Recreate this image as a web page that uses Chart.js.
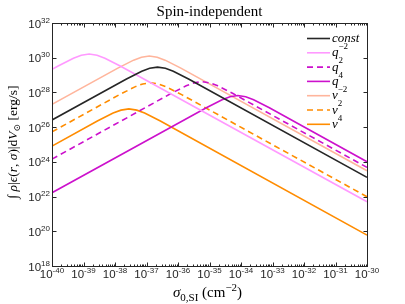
<!DOCTYPE html>
<html>
<head>
<meta charset="utf-8">
<script src="https://cdn.jsdelivr.net/npm/chart.js@4.4.1/dist/chart.umd.min.js"></script>
<style>html,body{margin:0;padding:0;background:#fff}</style>
</head>
<body>
<canvas id="c" width="405" height="304"></canvas>
<script>
// values, stored as log10 exponents
const logSigmaConst = [-40, -37.65, -37.15, -36.9, -36.65, -36.4, -36.15, -35.65, -30];
const logLumConst   = [26.41, 28.76, 29.22, 29.39, 29.46, 29.39, 29.22, 28.76, 23.11];

const logSigmaQm2 = [-40, -39.82, -39.32, -39.07, -38.82, -38.57, -38.32, -37.82, -30];
const logLumQm2   = [29.33, 29.51, 29.97, 30.14, 30.21, 30.14, 29.97, 29.51, 21.70];

const logSigmaQ2 = [-40, -36.24, -35.74, -35.49, -35.24, -34.99, -34.74, -34.24, -30];
const logLumQ2   = [24.16, 27.92, 28.38, 28.55, 28.62, 28.55, 28.38, 27.92, 23.68];

const logSigmaQ4 = [-40, -35.1, -34.6, -34.35, -34.1, -33.85, -33.6, -33.1, -30];
const logLumQ4   = [22.22, 27.12, 27.58, 27.75, 27.82, 27.75, 27.58, 27.12, 24.01];

const logSigmaVm2 = [-40, -37.91, -37.41, -37.16, -36.91, -36.66, -36.41, -35.91, -30];
const logLumVm2   = [27.31, 29.40, 29.86, 30.03, 30.10, 30.03, 29.86, 29.40, 23.49];

const logSigmaV2 = [-40, -37.87, -37.37, -37.12, -36.87, -36.62, -36.37, -35.87, -30];
const logLumV2   = [25.73, 27.86, 28.32, 28.49, 28.56, 28.49, 28.32, 27.86, 21.99];

const logSigmaV4 = [-40, -38.56, -38.06, -37.81, -37.56, -37.31, -37.06, -36.56, -30];
const logLumV4   = [24.91, 26.35, 26.81, 26.98, 27.05, 26.98, 26.81, 26.35, 19.78];

const xTickExps = [-40, -39, -38, -37, -36, -35, -34, -33, -32, -31, -30];
const yTickExps = [18, 20, 22, 24, 26, 28, 30, 32];

const AXIS = '#262626';
const SERIF = '"Liberation Serif", "DejaVu Serif", serif';
const SANS = '"Liberation Sans", Arial, sans-serif';

function toPoints(xs, ys) {
    return xs.map((e, i) => ({ x: Math.pow(10, e), y: Math.pow(10, ys[i]) }));
}

// legend labels: [text, style] where style is 'i' italic, 'n' normal, 'sup' superscript
const series = [
    { lab: [['const', 'i']], xs: logSigmaConst, ys: logLumConst, color: '#262626', dash: [] },
    { lab: [['q', 'i'], ['\u22122', 'sup']], xs: logSigmaQm2, ys: logLumQm2, color: '#ff99ff', dash: [] },
    { lab: [['q', 'i'], ['2', 'sup']], xs: logSigmaQ2, ys: logLumQ2, color: '#cc11cc', dash: [6, 4] },
    { lab: [['q', 'i'], ['4', 'sup']], xs: logSigmaQ4, ys: logLumQ4, color: '#cc11cc', dash: [] },
    { lab: [['v', 'i'], ['\u22122', 'sup']], xs: logSigmaVm2, ys: logLumVm2, color: '#ffb59c', dash: [] },
    { lab: [['v', 'i'], ['2', 'sup']], xs: logSigmaV2, ys: logLumV2, color: '#ff8c00', dash: [6, 4] },
    { lab: [['v', 'i'], ['4', 'sup']], xs: logSigmaV4, ys: logLumV4, color: '#ff8c00', dash: [] }
];

function segFont(seg, size, family) {
    const st = seg[1];
    let s = size;
    if (st === 'sup' || st === 'sub') s = Math.round(size * 0.7);
    return (st === 'i' ? 'italic ' : '') + s + 'px ' + family;
}

// draw a run of text pieces with super/subscripts
function drawRich(ctx, segs, x, y, size, family, align, supRaise) {
    const raise = supRaise || 0.42;
    let w = 0;
    const widths = segs.map(s => {
        ctx.font = segFont(s, size, family);
        const m = ctx.measureText(s[0]).width;
        w += m;
        return m;
    });
    let cx = align === 'center' ? x - w / 2 : (align === 'right' ? x - w : x);
    segs.forEach((s, i) => {
        ctx.font = segFont(s, size, family);
        let dy = 0;
        if (s[1] === 'sup') dy = -size * raise;
        if (s[1] === 'sub') dy = size * 0.25;
        ctx.fillText(s[0], cx, y + dy);
        cx += widths[i];
    });
}

const axesPlugin = {
    id: 'matlabAxes',
    afterDatasetsDraw(chart) {
        const ctx = chart.ctx;
        const a = chart.chartArea;
        const xs = chart.scales.x, ys = chart.scales.y;
        ctx.save();
        ctx.strokeStyle = AXIS;
        ctx.fillStyle = AXIS;
        ctx.lineWidth = 1;
        ctx.setLineDash([]);
        const L = Math.round(a.left) + 0.5, R = Math.round(a.right) + 0.5;
        const T = Math.round(a.top) + 0.5, B = Math.round(a.bottom) + 0.5;
        ctx.strokeRect(L, T, R - L, B - T);

        ctx.beginPath();
        xTickExps.forEach((e, k) => {
            const px = Math.round(xs.getPixelForValue(Math.pow(10, e))) + 0.5;
            ctx.moveTo(px, B); ctx.lineTo(px, B - 4);
            ctx.moveTo(px, T); ctx.lineTo(px, T + 4);
            if (k < xTickExps.length - 1) {
                for (let m = 2; m <= 9; m++) {
                    const mx = Math.round(xs.getPixelForValue(m * Math.pow(10, e))) + 0.5;
                    ctx.moveTo(mx, B); ctx.lineTo(mx, B - 2);
                    ctx.moveTo(mx, T); ctx.lineTo(mx, T + 2);
                }
            }
        });
        yTickExps.forEach(e => {
            const py = Math.round(ys.getPixelForValue(Math.pow(10, e))) + 0.5;
            ctx.moveTo(L, py); ctx.lineTo(L + 4, py);
            ctx.moveTo(R, py); ctx.lineTo(R - 4, py);
        });
        ctx.stroke();

        // tick labels
        ctx.textBaseline = 'alphabetic';
        xTickExps.forEach(e => {
            const px = xs.getPixelForValue(Math.pow(10, e));
            drawRich(ctx, [['10', 'n'], [String(e), 'sup']], px, 277.5, 11.5, SANS, 'center');
        });
        yTickExps.forEach(e => {
            const py = ys.getPixelForValue(Math.pow(10, e));
            drawRich(ctx, [['10', 'n'], [String(e), 'sup']], a.left - 2, py + 4.5, 11.5, SANS, 'right');
        });

        // title and axis titles
        ctx.fillStyle = '#000';
        drawRich(ctx, [['Spin-independent', 'n']], (a.left + a.right) / 2, 16, 15, SERIF, 'center');
        drawRich(ctx, [['\u03c3', 'i'], ['0,SI', 'sub'], [' (cm', 'n'], ['\u22122', 'sup'], [')', 'n']],
            (a.left + a.right) / 2 - 2, 297, 15, SERIF, 'center');
        ctx.save();
        ctx.translate(12, 142);
        ctx.rotate(-Math.PI / 2);
        drawRich(ctx, [['\u222b', 'n'], [' \u03c1', 'i'], ['|', 'n'], ['\u03f5', 'i'], ['(', 'n'], ['r', 'i'],
            [', ', 'n'], ['\u03c3', 'i'], [')|d', 'n'], ['V', 'i'], ['\u2299', 'sub'], [' [erg/s]', 'n']],
            0, 5, 13.5, SERIF, 'center');
        ctx.restore();

        // legend
        series.forEach((s, i) => {
            const y = 38.5 + i * 14.3;
            ctx.strokeStyle = s.color;
            ctx.lineWidth = 1.6;
            ctx.setLineDash(s.dash);
            ctx.beginPath();
            ctx.moveTo(307, y); ctx.lineTo(330, y);
            ctx.stroke();
            ctx.fillStyle = '#000';
            drawRich(ctx, s.lab, 332, y + 3.5, 13, SERIF, 'left', 0.55);
        });
        ctx.restore();
    }
};

new Chart(document.getElementById('c'), {
    type: 'line',
    data: {
        datasets: series.map(s => ({
            data: toPoints(s.xs, s.ys),
            borderColor: s.color,
            borderDash: s.dash,
            borderWidth: 1.6,
            pointRadius: 0,
            tension: 0,
            fill: false
        }))
    },
    options: {
        responsive: false,
        animation: false,
        layout: { padding: { left: 52, right: 38, top: 23, bottom: 38 } },
        plugins: { legend: { display: false }, tooltip: { enabled: false } },
        scales: {
            x: { type: 'logarithmic', min: 1e-40, max: 1e-30, display: false },
            y: { type: 'logarithmic', min: 1e18, max: 1e32, display: false }
        }
    },
    plugins: [axesPlugin]
});
</script>
</body>
</html>
